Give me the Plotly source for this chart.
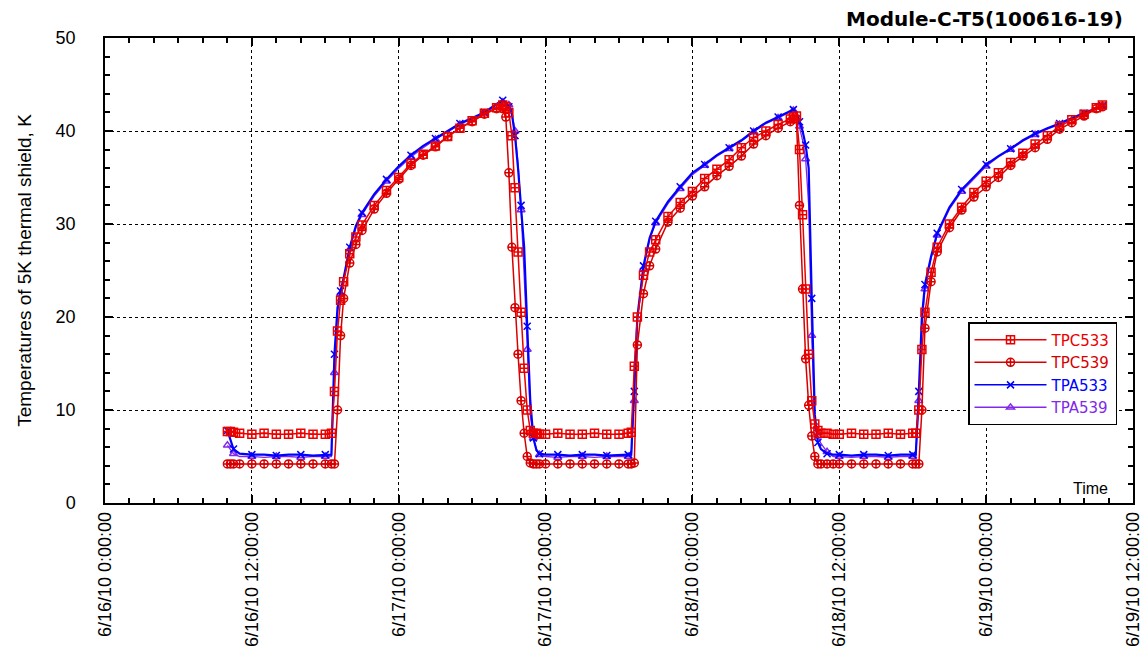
import pandas as pd
import plotly.graph_objects as go

# hours after 2010-06-16 00:00
hours = [
    10.0, 10.25, 10.5, 11, 12, 13, 14, 15, 16, 17, 18, 18.5,
    18.75, 19.0, 19.25, 19.5, 20, 20.5, 21, 22, 23, 24, 25, 26, 27, 28, 29, 30, 31, 32, 32.5,
    32.75, 33.0, 33.25, 33.5, 33.75, 34.0, 34.25, 34.5, 34.75, 35.0, 35.25, 35.5,
    36, 37, 38, 39, 40, 41, 42, 42.75,
    43.0, 43.25, 43.5, 44, 44.5, 45, 46, 47, 48, 49, 50, 51, 52, 53, 54, 55, 56, 56.25, 56.5,
    56.75, 57.0, 57.25, 57.5, 57.75, 58.0, 58.25, 58.5, 59.0, 59.5,
    60, 61, 62, 63, 64, 65, 66, 66.25,
    66.5, 66.75, 67.0, 67.5, 68, 69, 70, 71, 72, 73, 74, 75, 76, 77, 78, 79, 80, 81, 81.5,
]

tpc533 = [
    7.7, 7.7, 7.6, 7.5, 7.4, 7.5, 7.4, 7.4, 7.5, 7.4, 7.4, 7.5,
    12.0, 18.5, 21.8, 23.8, 26.8, 28.6, 29.9, 32.0, 33.6, 35.0, 36.5, 37.5, 38.4, 39.4, 40.3, 41.1, 41.9, 42.5, 42.8,
    42.6, 42.0, 39.5, 33.9, 27.0, 20.5, 14.5, 10.0, 7.8, 7.5, 7.5, 7.4,
    7.4, 7.5, 7.4, 7.4, 7.5, 7.4, 7.4, 7.5,
    7.6, 14.7, 20.0, 24.5, 27.0, 28.3, 30.8, 32.3, 33.5, 34.9, 35.9, 36.9, 38.2, 39.3, 40.0, 40.7, 41.3, 41.5, 41.6,
    38.0, 31.0, 23.0, 16.0, 11.0, 8.5, 7.8, 7.5, 7.5, 7.4,
    7.4, 7.5, 7.4, 7.4, 7.5, 7.4, 7.5, 7.5,
    10.0, 16.5, 20.5, 24.8, 27.5, 30.0, 31.8, 33.4, 34.6, 35.5, 36.6, 37.6, 38.6, 39.5, 40.5, 41.2, 41.8, 42.5, 42.8,
]

tpc539 = [
    4.2, 4.2, 4.2, 4.2, 4.2, 4.2, 4.2, 4.2, 4.2, 4.2, 4.2, 4.2,
    4.2, 10.0, 18.0, 22.0, 25.8, 27.8, 29.3, 31.6, 33.3, 34.8, 36.3, 37.4, 38.3, 39.4, 40.3, 41.0, 41.8, 42.4, 42.4,
    41.5, 35.5, 27.5, 21.0, 16.0, 11.0, 7.5, 5.0, 4.3, 4.2, 4.2, 4.2,
    4.2, 4.2, 4.2, 4.2, 4.2, 4.2, 4.2, 4.2,
    4.2, 4.3, 17.0, 22.5, 25.5, 27.3, 30.2, 31.7, 33.0, 34.0, 35.2, 36.2, 37.3, 38.6, 39.5, 40.3, 41.0, 41.3, 41.3,
    32.0, 23.0, 15.5, 10.5, 7.2, 5.0, 4.2, 4.2, 4.2, 4.2,
    4.2, 4.2, 4.2, 4.2, 4.2, 4.2, 4.2, 4.2,
    4.2, 10.0, 18.8, 23.8, 27.0, 29.6, 31.5, 32.9, 34.0, 35.0, 36.3, 37.3, 38.2, 39.1, 40.2, 40.9, 41.6, 42.4, 42.6,
]

tpa533 = [
    7.8, 6.8, 5.8, 5.3, 5.2, 5.2, 5.1, 5.2, 5.2, 5.1, 5.2, 5.2,
    16.0, 21.0, 22.8, 24.2, 27.5, 29.8, 31.2, 33.2, 34.8, 36.2, 37.4, 38.4, 39.2, 40.0, 40.8, 41.4, 42.0, 42.9, 43.3,
    43.0, 42.6, 41.8, 39.5, 36.0, 32.0, 27.5, 19.0, 11.0, 7.0, 5.7, 5.3,
    5.2, 5.2, 5.1, 5.2, 5.2, 5.1, 5.2, 5.2,
    5.2, 12.0, 20.0, 25.5, 28.5, 30.3, 32.4, 34.0, 35.5, 36.4, 37.4, 38.2, 39.0, 40.0, 40.9, 41.5, 42.2, 42.3, 42.0,
    41.0, 40.0, 38.5, 36.0, 22.0, 9.5, 6.5, 5.8, 5.3, 5.2,
    5.2, 5.1, 5.2, 5.2, 5.1, 5.2, 5.2, 5.2,
    12.0, 20.0, 23.5, 26.5, 29.0, 31.8, 33.7, 35.0, 36.4, 37.3, 38.1, 39.0, 39.7, 40.3, 40.8, 41.4, 41.9, 42.4, 42.7,
]

tpa539 = [
    6.2, 5.8, 5.3, 5.0, 5.0, 4.9, 5.0, 5.0, 4.9, 5.0, 5.0, 5.0,
    14.0, 20.5, 22.5, 24.0, 27.3, 29.6, 31.0, 33.0, 34.6, 36.0, 37.2, 38.2, 39.1, 39.9, 40.7, 41.3, 41.9, 42.8, 43.1,
    43.1, 42.8, 42.0, 40.0, 36.5, 31.5, 24.5, 16.5, 9.5, 7.0, 5.8, 5.2,
    5.0, 4.9, 5.0, 5.0, 4.9, 5.0, 5.0, 5.0,
    5.0, 11.0, 19.5, 25.2, 28.3, 30.1, 32.2, 33.8, 35.3, 36.3, 37.3, 38.1, 38.9, 39.9, 40.8, 41.4, 42.1, 42.2, 41.8,
    40.5, 39.0, 37.0, 32.0, 18.0, 8.0, 7.2, 6.4, 5.5, 5.0,
    5.0, 4.9, 5.0, 5.0, 4.9, 5.0, 5.0, 5.0,
    11.0, 19.0, 23.0, 26.3, 28.8, 31.6, 33.5, 34.9, 36.2, 37.2, 38.0, 38.9, 39.6, 40.2, 40.7, 41.3, 41.8, 42.3, 42.6,
]

series_names = ["TPC533", "TPC539", "TPA533", "TPA539"]
x_ticks_start = "2010-06-16 00:00:00"
x_range_end = "2010-06-19 12:00:00"

base = pd.Timestamp(x_ticks_start)
times = [base + pd.Timedelta(hours=h) for h in hours]

styles = {
    "TPC533": dict(color="rgb(235,0,0)", symbol="square-cross-open", size=8, lw=1.5, every=1),
    "TPC539": dict(color="rgb(215,0,0)", symbol="circle-cross-open", size=8, lw=1.5, every=1),
    "TPA533": dict(color="rgb(0,0,255)", symbol="x-thin-open", size=7, lw=2.2, every=2),
    "TPA539": dict(color="rgb(130,40,235)", symbol="triangle-up-open", size=7, lw=1.3, every=2),
}
data = {"TPC533": tpc533, "TPC539": tpc539, "TPA533": tpa533, "TPA539": tpa539}

fig = go.Figure()
draw_order = ["TPA539", "TPA533", "TPC539", "TPC533"]
for name in draw_order:
    st = styles[name]
    ys = data[name]
    fig.add_trace(go.Scatter(x=times, y=ys, mode="lines",
                             line=dict(color=st["color"], width=st["lw"]),
                             showlegend=False, hoverinfo="skip"))
    idx = list(range(0, len(ys), st["every"]))
    fig.add_trace(go.Scatter(x=[times[i] for i in idx], y=[ys[i] for i in idx], mode="markers",
                             marker=dict(symbol=st["symbol"], size=st["size"], color=st["color"],
                                         line=dict(width=1.5, color=st["color"])),
                             showlegend=False))

for rank, name in enumerate(series_names):
    st = styles[name]
    fig.add_trace(go.Scatter(x=[None], y=[None], mode="lines+markers",
                             name=f'<span style="color:{st["color"]}">{name}</span>',
                             line=dict(color=st["color"], width=1.5),
                             marker=dict(symbol=st["symbol"], size=st["size"], color=st["color"],
                                         line=dict(width=1.5, color=st["color"])),
                             legendrank=rank + 1))

tick_font = dict(family="Liberation Sans", size=18, color="black")
axis_common = dict(showline=True, linecolor="black", linewidth=1.5, mirror="allticks",
                   ticks="inside", ticklen=8, tickcolor="black", tickwidth=1.5,
                   showgrid=True, gridcolor="black", gridwidth=1, griddash="dot",
                   zeroline=False, automargin=False, tickfont=tick_font)

fig.update_xaxes(type="date", range=[x_ticks_start, x_range_end],
                 tick0=x_ticks_start, dtick=43200000,
                 tickformat="%-m/%-d/%y %-H:%M:%S", tickangle=-90,
                 minor=dict(dtick=7200000, ticks="inside", ticklen=5, tickcolor="black", tickwidth=1.5, showgrid=False),
                 **axis_common)
fig.update_yaxes(range=[0, 50], dtick=10, ticklabelstandoff=24,
                 minor=dict(dtick=2, ticks="inside", ticklen=5, tickcolor="black", tickwidth=1.5, showgrid=False),
                 title=dict(text="Temperatures of 5K thermal shield, K",
                            font=dict(family="Liberation Sans", size=19, color="black"), standoff=19),
                 **axis_common)

fig.update_layout(
    width=1144, height=657,
    margin=dict(l=105, r=11, t=38, b=154),
    paper_bgcolor="white", plot_bgcolor="white",
    legend=dict(x=0.8395, y=0.389, xanchor="left", yanchor="top",
                bgcolor="white", bordercolor="black", borderwidth=1.5,
                font=dict(family="DejaVu Sans", size=15), tracegroupgap=0,
                itemwidth=72),
    annotations=[
        dict(text="<b>Module-C-T5(100616-19)</b>", xref="paper", yref="paper",
             x=0.992, y=1.041, xanchor="right", yanchor="middle", showarrow=False,
             font=dict(family="DejaVu Sans", size=20, color="black")),
        dict(text="Time", xref="paper", yref="paper", x=0.9776, y=0.032,
             xanchor="right", yanchor="middle", showarrow=False,
             font=dict(family="Liberation Sans", size=16, color="black")),
    ],
)

fig.write_html("out.html", config={"displayModeBar": False},
               post_script="document.body.style.margin='0';document.body.style.overflow='hidden';")
